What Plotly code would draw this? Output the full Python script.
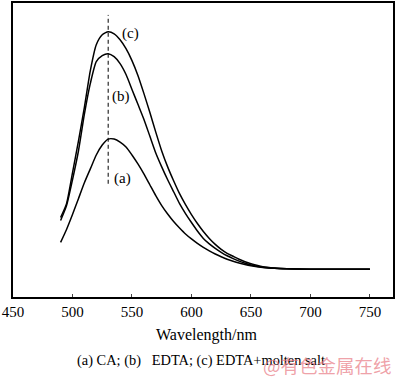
import plotly.graph_objects as go

# Spectra (wavelength in nm, intensity in arbitrary units)
wavelength = [490, 495, 500, 505, 510, 515, 520, 525, 530, 535, 540, 545, 550, 555, 560,
              565, 570, 575, 580, 585, 590, 595, 600, 605, 610, 615, 620, 625, 630, 635,
              640, 645, 650, 660, 670, 680, 700, 750]

int_c = [80, 94, 125, 157, 191, 228, 254, 264, 267, 265, 259, 250, 238, 223, 205,
         186, 166, 147, 131, 117, 104, 93, 83, 74, 66, 59, 53, 48, 44, 41,
         38, 35.5, 33.5, 30.5, 29.2, 28.5, 28, 28]

int_b = [77, 92, 118, 147, 184, 215, 237, 243, 245, 242, 235, 224, 209, 194, 179,
         162, 145, 131, 118, 106, 94, 84, 75, 66.5, 59, 53.5, 49, 45, 41.5, 38.6,
         36.1, 34, 32.2, 30, 28.9, 28.4, 28, 28]

int_a = [55, 68, 83, 99, 115, 129, 143, 153, 159, 159, 156, 151, 143, 134, 124,
         113, 102, 92, 83.5, 76, 69.5, 63.5, 58.5, 54, 50, 46.5, 43.3, 40.5, 38, 36,
         34.2, 32.7, 31.5, 29.8, 28.9, 28.4, 28, 28]

peak_wl = 530
dash_y = [114, 284]

x_ticks = [450, 500, 550, 600, 650, 700, 750]
series_labels = ["(a)", "(b)", "(c)"]
label_pos = [(542, 119), (541, 202), (549, 265)]

fig = go.Figure()
for it in [int_a, int_b, int_c]:
    fig.add_trace(go.Scatter(x=wavelength, y=it, mode="lines",
                             line=dict(color="black", width=1.5, shape="spline", smoothing=0.6),
                             showlegend=False, hoverinfo="skip"))

fig.add_trace(go.Scatter(x=[peak_wl, peak_wl], y=dash_y, mode="lines",
                         line=dict(color="black", width=1, dash="4px,3px"),
                         showlegend=False, hoverinfo="skip"))

for lab, (lx, ly) in zip(series_labels, label_pos):
    fig.add_annotation(x=lx, y=ly, text=lab, showarrow=False,
                       font=dict(family="Liberation Serif", size=15, color="black"))

fig.add_annotation(xref="paper", yref="paper", x=0.51, y=-0.129, yanchor="middle",
                   text="Wavelength/nm", showarrow=False,
                   font=dict(family="Liberation Serif", size=16, color="black"))
fig.add_annotation(xref="paper", yref="paper", x=0.163, y=-0.216, yanchor="middle", xanchor="left",
                   text="(a) CA; (b)   EDTA; (c) EDTA+molten salt", showarrow=False,
                   font=dict(family="Liberation Serif", size=14.4, color="black"))
fig.add_annotation(xref="paper", yref="paper", x=0.652, y=-0.23, yanchor="middle", xanchor="left",
                   text="@有色金属在线", showarrow=False,
                   font=dict(family="Noto Sans CJK SC", size=18.5, color="rgba(232,120,130,0.7)"))

fig.update_layout(
    width=400, height=378,
    margin=dict(l=13, r=7, t=1, b=81),
    paper_bgcolor="white", plot_bgcolor="white",
    xaxis=dict(range=[450, 769.4], tickvals=x_ticks, ticks="inside", ticklen=3,
               showline=True, linecolor="black", linewidth=1.5, mirror=True,
               showgrid=False, zeroline=False,
               tickfont=dict(family="Liberation Serif", size=15, color="black")),
    yaxis=dict(range=[0, 296], showticklabels=False, ticks="",
               showline=True, linecolor="black", linewidth=1.5, mirror=True,
               showgrid=False, zeroline=False),
)

fig.write_html("out.html", config={"displayModeBar": False},
               post_script="document.body.style.margin='0';document.body.style.overflow='hidden';")
